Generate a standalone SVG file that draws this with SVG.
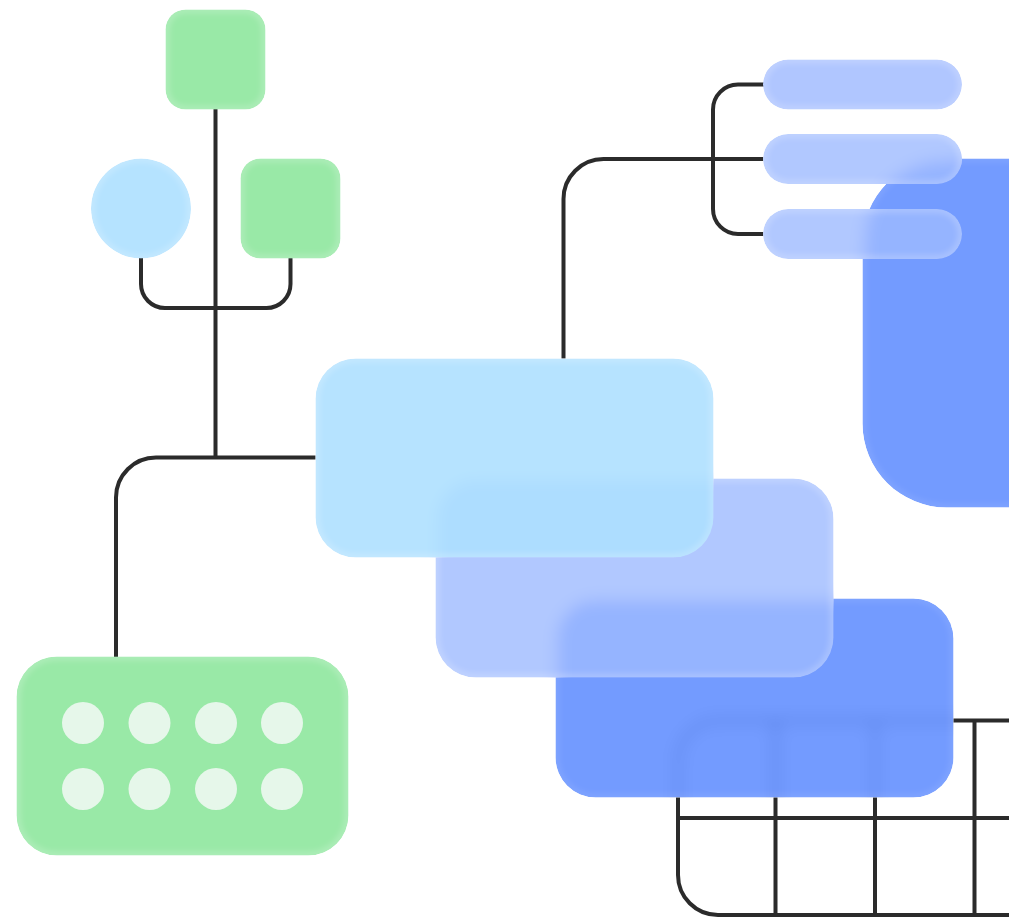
<svg xmlns="http://www.w3.org/2000/svg" width="1009" height="917" viewBox="0 0 1009 917">
<style>
.wire{fill:none;stroke:#2b2b2b;stroke-width:4}
.edge{fill:none;stroke:#fff;stroke-width:6;opacity:.28}
.faint{opacity:.12}
.green{fill:#99e9a7}
.sky{fill:rgba(172,223,255,.88)}
.peri{fill:rgba(158,186,255,.8)}
.blue{fill:rgba(80,130,255,.8)}
.dot{fill:#e6f7ea}
</style>
<defs>
<filter id="blur" filterUnits="userSpaceOnUse" x="-60" y="-60" width="1129" height="1037"><feGaussianBlur stdDeviation="8"/></filter>
<filter id="soft" filterUnits="userSpaceOnUse" x="-60" y="-60" width="1129" height="1037"><feGaussianBlur stdDeviation="3.500"/></filter>
<clipPath id="c-blob"><rect x="862.500" y="158.500" width="300" height="349" rx="84"/></clipPath>
<clipPath id="c-blue"><rect x="555.500" y="598.500" width="398" height="199" rx="40"/></clipPath>
<clipPath id="c-peri"><rect x="435.500" y="478.500" width="398" height="199" rx="40"/></clipPath>
<clipPath id="c-sky"><rect x="315.500" y="358.500" width="398" height="199" rx="40"/></clipPath>
<clipPath id="c-p1"><rect x="763" y="59.500" width="199" height="50" rx="25"/></clipPath>
<clipPath id="c-p2"><rect x="763" y="134" width="199" height="50" rx="25"/></clipPath>
<clipPath id="c-p3"><rect x="763" y="209" width="199" height="50" rx="25"/></clipPath>
<clipPath id="c-s1"><rect x="165.500" y="9.500" width="100" height="100" rx="20"/></clipPath>
<clipPath id="c-s2"><rect x="240.500" y="158.500" width="100" height="100" rx="20"/></clipPath>
<clipPath id="c-c"><circle cx="141" cy="208.500" r="50"/></clipPath>
<clipPath id="c-g"><rect x="16.500" y="656.500" width="332" height="199" rx="40"/></clipPath>
</defs>
<rect width="1009" height="917" fill="#fff"/>
<g id="connectors">
<path class="wire" d="M215.500 109V457.500"/>
<path class="wire" d="M141 258V284a24 24 0 0 0 24 24H266.500a24 24 0 0 0 24-24V258"/>
<path class="wire" d="M316 457.500H156a40 40 0 0 0-40 40V657"/>
<path class="wire" d="M563.500 359V199a40 40 0 0 1 40-40H764"/>
<path class="wire" d="M764 84.500H738a25 25 0 0 0-25 25V209a25 25 0 0 0 25 25H764"/>
<path id="grid" class="wire" d="M1009 720.500H718a40 40 0 0 0-40 40V875a40 40 0 0 0 40 40H1009M678 818H1009M775.500 720.500V917M875 720.500V917M974.500 720.500V917"/>
</g>
<g id="node-blob" clip-path="url(#c-blob)">
<rect x="862.500" y="158.500" width="300" height="349" rx="84" fill="#739bff"/>
<rect class="edge faint" x="862.500" y="158.500" width="300" height="349" rx="84" filter="url(#soft)"/>
</g>
<g id="node-blue" clip-path="url(#c-blue)">
<g filter="url(#blur)"><rect x="-60" y="-60" width="1129" height="1037" fill="#fff"/><use href="#grid"/></g>
<rect class="blue" x="555.500" y="598.500" width="398" height="199" rx="40"/>
<rect class="edge faint" x="555.500" y="598.500" width="398" height="199" rx="40" filter="url(#soft)"/>
</g>
<g id="node-peri" clip-path="url(#c-peri)">
<g filter="url(#blur)"><rect x="-60" y="-60" width="1129" height="1037" fill="#fff"/><use href="#node-blue"/></g>
<rect class="peri" x="435.500" y="478.500" width="398" height="199" rx="40"/>
<rect class="edge" x="435.500" y="478.500" width="398" height="199" rx="40" filter="url(#soft)"/>
</g>
<g id="node-sky" clip-path="url(#c-sky)">
<g filter="url(#blur)"><rect x="-60" y="-60" width="1129" height="1037" fill="#fff"/><use href="#node-peri"/></g>
<rect class="sky" x="315.500" y="358.500" width="398" height="199" rx="40"/>
<rect class="edge" x="315.500" y="358.500" width="398" height="199" rx="40" filter="url(#soft)"/>
</g>
<g id="node-pill-1" clip-path="url(#c-p1)">
<rect x="763" y="59.500" width="199" height="50" rx="25" fill="#b0c6ff"/>
<rect class="edge" x="763" y="59.500" width="199" height="50" rx="25" filter="url(#soft)"/>
</g>
<g id="node-pill-2" clip-path="url(#c-p2)">
<g filter="url(#blur)"><rect x="-60" y="-60" width="1129" height="1037" fill="#fff"/><use href="#node-blob"/></g>
<rect class="peri" x="763" y="134" width="199" height="50" rx="25"/>
<rect class="edge" x="763" y="134" width="199" height="50" rx="25" filter="url(#soft)"/>
</g>
<g id="node-pill-3" clip-path="url(#c-p3)">
<g filter="url(#blur)"><rect x="-60" y="-60" width="1129" height="1037" fill="#fff"/><use href="#node-blob"/></g>
<rect class="peri" x="763" y="209" width="199" height="50" rx="25"/>
<rect class="edge" x="763" y="209" width="199" height="50" rx="25" filter="url(#soft)"/>
</g>
<g id="node-square-1" clip-path="url(#c-s1)">
<rect class="green" x="165.500" y="9.500" width="100" height="100" rx="20"/>
<rect class="edge" x="165.500" y="9.500" width="100" height="100" rx="20" filter="url(#soft)"/>
</g>
<g id="node-square-2" clip-path="url(#c-s2)">
<rect class="green" x="240.500" y="158.500" width="100" height="100" rx="20"/>
<rect class="edge" x="240.500" y="158.500" width="100" height="100" rx="20" filter="url(#soft)"/>
</g>
<g id="node-circle" clip-path="url(#c-c)">
<circle cx="141" cy="208.500" r="50" fill="#b5e3ff"/>
<circle class="edge" cx="141" cy="208.500" r="50" filter="url(#soft)"/>
</g>
<g id="node-dots">
<g clip-path="url(#c-g)">
<rect class="green" x="16.500" y="656.500" width="332" height="199" rx="40"/>
<rect class="edge" x="16.500" y="656.500" width="332" height="199" rx="40" filter="url(#soft)"/>
</g>
<circle class="dot" cx="83" cy="723" r="21"/><circle class="dot" cx="149.500" cy="723" r="21"/><circle class="dot" cx="216" cy="723" r="21"/><circle class="dot" cx="282" cy="723" r="21"/>
<circle class="dot" cx="83" cy="789" r="21"/><circle class="dot" cx="149.500" cy="789" r="21"/><circle class="dot" cx="216" cy="789" r="21"/><circle class="dot" cx="282" cy="789" r="21"/>
</g>
</svg>
